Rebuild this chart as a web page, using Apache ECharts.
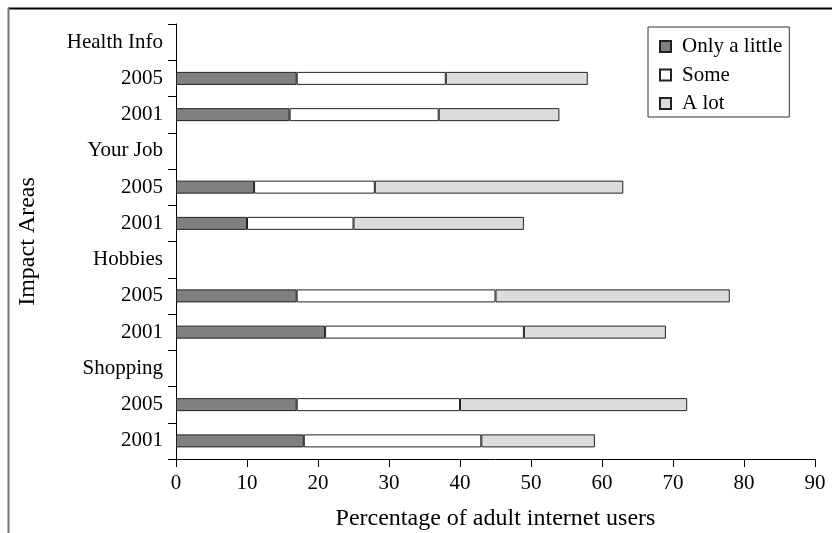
<!DOCTYPE html>
<html>
<head>
<meta charset="utf-8">
<script src="https://cdn.jsdelivr.net/npm/echarts@6/dist/echarts.min.js"></script>
<style>
  html, body { margin: 0; padding: 0; background: #fff; }
  #chart { width: 832px; height: 533px; }
</style>
</head>
<body>
<div id="chart"></div>
<script>
// Impact areas listed bottom to top
const areas = ['Shopping', 'Hobbies', 'Your Job', 'Health Info'];
const years = ['2001', '2005'];
const seriesNames = ['Only a little', 'Some', 'A lot'];
const xTicks = [0, 10, 20, 30, 40, 50, 60, 70, 80, 90];

// Values per area (same order as areas)
const onlyLittle2001 = [18, 21, 10, 16];
const onlyLittle2005 = [17, 17, 11, 17];
const some2001 = [25, 28, 15, 21];
const some2005 = [23, 28, 17, 21];
const aLot2001 = [16, 20, 24, 17];
const aLot2005 = [32, 33, 35, 20];

// Build category rows: for each area, 2001, 2005, then the area heading row
const categories = [];
const labels = [];
const rowsLittle = [], rowsSome = [], rowsLot = [];
areas.forEach(function (a, i) {
  categories.push(a + '|2001'); labels.push(years[0]);
  rowsLittle.push(onlyLittle2001[i]); rowsSome.push(some2001[i]); rowsLot.push(aLot2001[i]);
  categories.push(a + '|2005'); labels.push(years[1]);
  rowsLittle.push(onlyLittle2005[i]); rowsSome.push(some2005[i]); rowsLot.push(aLot2005[i]);
  categories.push(a + '|head'); labels.push(a);
  rowsLittle.push(null); rowsSome.push(null); rowsLot.push(null);
});

const font = 'Liberation Serif, Times New Roman, serif';
const fills = ['#808080', '#ffffff', '#dcdcdc'];
const dataRows = [rowsLittle, rowsSome, rowsLot];

const chart = echarts.init(document.getElementById('chart'), null, { renderer: 'canvas' });
chart.setOption({
  animation: false,
  backgroundColor: '#ffffff',
  textStyle: { fontFamily: font, color: '#000' },
  grid: { left: 176, right: 17, top: 24, bottom: 74, outerBoundsMode: 'none', containLabel: false },
  legend: {
    orient: 'vertical',
    left: 648,
    top: 27,
    data: seriesNames.map(function (n) { return { name: n, icon: 'rect' }; }),
    itemWidth: 11,
    itemHeight: 11,
    itemGap: 7.5,
    padding: [9, 7, 3, 11],
    borderColor: '#333',
    borderWidth: 1,
    textStyle: { fontFamily: font, fontSize: 21, color: '#000', padding: [0, 0, 0, 6] }
  },
  xAxis: {
    type: 'value',
    min: xTicks[0],
    max: xTicks[xTicks.length - 1],
    interval: 10,
    name: 'Percentage of adult internet users',
    nameLocation: 'middle',
    nameGap: 48,
    nameTextStyle: { fontFamily: font, fontSize: 24, color: '#000' },
    axisLine: { show: true, lineStyle: { color: '#000', width: 1 } },
    axisTick: { show: true, length: 8, lineStyle: { color: '#000' } },
    axisLabel: { fontFamily: font, fontSize: 21, color: '#000', margin: 14 },
    splitLine: { show: false }
  },
  yAxis: {
    type: 'category',
    data: categories,
    name: 'Impact Areas',
    nameLocation: 'middle',
    nameGap: 136,
    nameTextStyle: { fontFamily: font, fontSize: 24, color: '#000' },
    axisLine: { show: true, lineStyle: { color: '#000', width: 1 } },
    axisTick: { show: true, length: 8, lineStyle: { color: '#000' } },
    axisLabel: {
      fontFamily: font, fontSize: 21, color: '#000', margin: 13,
      formatter: function (v, idx) { return labels[idx]; }
    },
    splitLine: { show: false }
  },
  series: seriesNames.map(function (n, k) {
    return {
      name: n,
      type: 'bar',
      stack: 'total',
      barWidth: 13,
      data: dataRows[k],
      itemStyle: { color: fills[k], borderColor: '#222', borderWidth: 1 }
    };
  }),
  graphic: [
    { type: 'line', silent: true, shape: { x1: 8, y1: 8.5, x2: 832, y2: 8.5 }, style: { stroke: '#000', lineWidth: 2 } },
    { type: 'line', silent: true, shape: { x1: 8.5, y1: 8, x2: 8.5, y2: 533 }, style: { stroke: '#777', lineWidth: 2 } }
  ]
});
</script>
</body>
</html>
